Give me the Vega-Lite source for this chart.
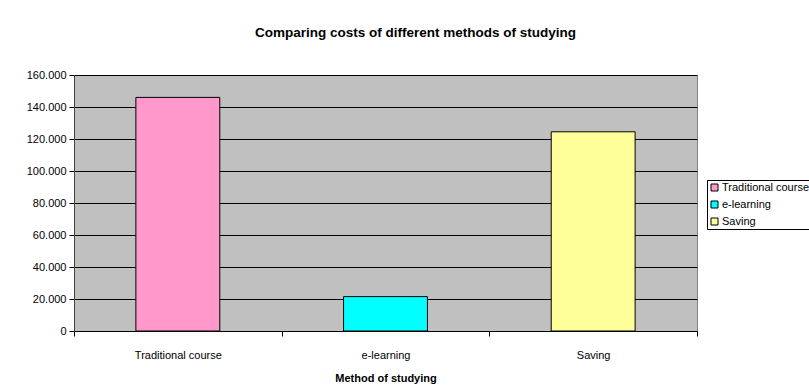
{
  "$schema": "https://vega.github.io/schema/vega-lite/v6.json",
  "autosize": {"type": "none"},
  "width": 623,
  "height": 256,
  "padding": {"left": 74, "top": 75, "right": 112, "bottom": 57},
  "background": "#ffffff",
  "title": {
    "text": "Comparing costs of different methods of studying",
    "font": "Liberation Sans",
    "fontSize": 13.5,
    "fontWeight": "bold",
    "color": "#000000",
    "anchor": "middle",
    "dx": 30,
    "baseline": "middle",
    "offset": 23
  },
  "data": {
    "values": [
      {"method": "Traditional course", "cost": 146000},
      {"method": "e-learning", "cost": 21500},
      {"method": "Saving", "cost": 124500}
    ]
  },
  "mark": {"type": "bar", "stroke": "#000000", "strokeWidth": 1, "width": {"band": 0.404}},
  "encoding": {
    "x": {
      "field": "method",
      "type": "nominal",
      "sort": ["Traditional course", "e-learning", "Saving"],
      "scale": {"paddingInner": 0, "paddingOuter": 0},
      "axis": {
        "title": "Method of studying",
        "titleFont": "Liberation Sans",
        "titleFontSize": 11,
        "titleFontWeight": "bold",
        "titleColor": "#000000",
        "titlePadding": 12,
        "labelAngle": 0,
        "labelFont": "Liberation Sans",
        "labelFontSize": 11,
        "labelColor": "#000000",
        "labelPadding": 13,
        "tickBand": "extent",
        "tickSize": 5,
        "tickColor": "#000000",
        "domainColor": "#000000",
        "grid": false
      }
    },
    "y": {
      "field": "cost",
      "type": "quantitative",
      "scale": {"domain": [0, 160000], "nice": false},
      "axis": {
        "title": null,
        "values": [0, 20000, 40000, 60000, 80000, 100000, 120000, 140000, 160000],
        "labelExpr": "replace(format(datum.value, ','), ',', '.')",
        "labelFont": "Liberation Sans",
        "labelFontSize": 11,
        "labelColor": "#000000",
        "labelPadding": 3,
        "tickSize": 5,
        "tickColor": "#000000",
        "domainColor": "#404040",
        "grid": true,
        "gridColor": "#000000",
        "gridOpacity": 1,
        "gridWidth": 1
      }
    },
    "color": {
      "field": "method",
      "type": "nominal",
      "sort": ["Traditional course", "e-learning", "Saving"],
      "scale": {
        "domain": ["Traditional course", "e-learning", "Saving"],
        "range": ["#ff99cc", "#00ffff", "#ffff99"]
      },
      "legend": {
        "title": null,
        "orient": "none",
        "legendX": 633,
        "legendY": 105,
        "symbolType": "square",
        "symbolSize": 49,
        "symbolStrokeColor": "#000000",
        "symbolStrokeWidth": 1,
        "labelFont": "Liberation Sans",
        "labelFontSize": 11,
        "labelColor": "#000000",
        "labelOffset": 2,
        "rowPadding": 5,
        "padding": 2,
        "strokeColor": "#000000",
        "fillColor": "#ffffff"
      }
    }
  },
  "config": {
    "view": {"fill": "#c0c0c0", "stroke": "#808080"}
  }
}
